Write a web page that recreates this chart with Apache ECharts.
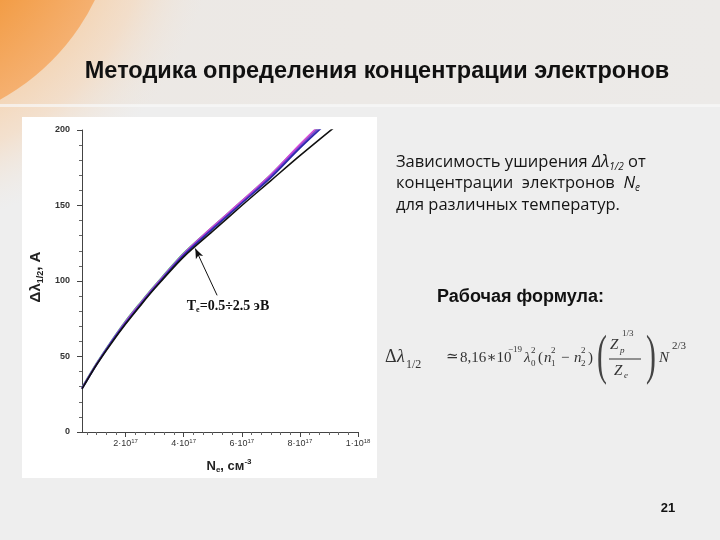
<!DOCTYPE html>
<html><head><meta charset="utf-8">
<script src="https://cdn.jsdelivr.net/npm/echarts@6/dist/echarts.min.js"></script>
<style>html,body{margin:0;padding:0;background:#eeeeee}#c{width:720px;height:540px}</style>
</head><body><div id="c"></div>
<script>
// Electron density, units of 1e17 cm^-3
const neValues = [0.5, 1, 1.5, 2, 2.5, 3, 4, 5, 6, 7, 8, 9.2];
// Line broadening Δλ1/2, Å for various temperatures (0.5 – 2.5 eV)
const teGreen   = [29.5, 45.5, 60, 73.5, 85.5, 97, 118.5, 136, 153, 170.5, 190, 212];
const teMagenta = [29, 45, 59.5, 73, 85, 96.5, 118, 136, 153, 170.5, 190.5, 213];
const tePurple  = [29, 45, 59.5, 72.5, 84.5, 96, 117.5, 135, 152, 169.5, 189, 211];
const teBlue    = [28.5, 44.5, 59, 72, 84, 95.5, 117, 134.5, 151.5, 168.5, 188, 209.5];
const teBlack   = [28.5, 44.5, 58.5, 71.5, 83.5, 95, 116, 133, 150, 166.5, 183, 202];
const xTickValues = [2, 4, 6, 8, 10];
const xTickMantissa = ['2', '4', '6', '8', '1'];
const xTickExp = ['17', '17', '17', '17', '18'];
const yTickValues = [0, 50, 100, 150, 200];
const arrowFrom = [5.15, 90.5];
const arrowTo = [4.4, 121.5];

const curves = [
  {name: 'T1', data: teGreen, color: '#3cb878'},
  {name: 'T2', data: teMagenta, color: '#d848d8'},
  {name: 'T3', data: tePurple, color: '#7a3ad8'},
  {name: 'T4', data: teBlue, color: '#2a2aa8'},
  {name: 'T5', data: teBlack, color: '#111111'}
];

const chart = echarts.init(document.getElementById('c'));
const serif = '"Liberation Serif","DejaVu Serif",serif';
const sans = '"Liberation Sans",Arial,sans-serif';
const body = '"Open Sans","Noto Sans",sans-serif';
function T(x, y, text, style, extra) {
  return Object.assign({type: 'text', x: x, y: y, z: 100,
    style: Object.assign({text: text, fill: '#222', verticalAlign: 'middle', align: 'left'}, style)}, extra || {});
}
const formulaFont = {fontFamily: serif, fontSize: 15, fill: '#333'};
const fi = Object.assign({}, formulaFont, {fontStyle: 'italic'});
const fs = Object.assign({}, formulaFont, {fontSize: 9});
const fsi = Object.assign({}, fs, {fontStyle: 'italic'});
const bodyRich = {
  t: {fontFamily: body, fontSize: 16.5, fill: '#151515', lineHeight: 20},
  i: {fontFamily: body, fontStyle: 'italic', fontSize: 16.5, fill: '#151515', lineHeight: 20},
  s: {fontFamily: body, fontStyle: 'italic', fontSize: 10, fill: '#151515', lineHeight: 10, verticalAlign: 'bottom'}
};

const graphics = [
  {type: 'rect', z: -10, shape: {x: 0, y: 0, width: 720, height: 540}, style: {fill: '#eeeeee'}},
  {type: 'rect', z: -9, shape: {x: 0, y: 0, width: 720, height: 105},
    style: {fill: new echarts.graphic.LinearGradient(0, 0, 1, 0, [{offset: 0, color: '#ece8e4'}, {offset: 1, color: '#eceae8'}])}},
  {type: 'circle', z: -8, shape: {cx: -110, cy: -100, r: 330},
    style: {fill: new echarts.graphic.RadialGradient(0.5, 0.5, 0.5, [
      {offset: 0.55, color: 'rgba(246,200,150,0.9)'}, {offset: 0.8, color: 'rgba(246,215,185,0.6)'}, {offset: 1, color: 'rgba(240,230,220,0)'}])}},
  {type: 'circle', z: -7, shape: {cx: -110, cy: -100, r: 228},
    style: {fill: new echarts.graphic.RadialGradient(0.5, 0.5, 0.5, [
      {offset: 0.6, color: '#f29a40'}, {offset: 1, color: '#f5b070'}])}},
  {type: 'rect', z: -6, shape: {x: 0, y: 104, width: 720, height: 3}, style: {fill: 'rgba(248,248,248,0.7)'}},
  {type: 'rect', z: -5, shape: {x: 22, y: 117, width: 355, height: 361}, style: {fill: '#ffffff'}},
  T(377, 72, 'Методика определения концентрации электронов', {fontFamily: sans, fontWeight: 'bold', fontSize: 23.5, fill: '#111', align: 'center'}),
  // y axis name
  T(36, 277, '{a|Δλ}{s|1/2}{a|, A}', {align: 'center', rich: {
    a: {fontFamily: sans, fontWeight: 'bold', fontSize: 15, fill: '#222', lineHeight: 18},
    s: {fontFamily: sans, fontWeight: 'bold', fontSize: 9, fill: '#222', lineHeight: 9, verticalAlign: 'bottom'}}}, {rotation: Math.PI / 2}),
  // x axis name
  T(229, 466, '{a|N}{s|e}{a|, см}{p|-3}', {align: 'center', rich: {
    a: {fontFamily: sans, fontWeight: 'bold', fontSize: 13, fill: '#222', lineHeight: 16},
    s: {fontFamily: sans, fontWeight: 'bold', fontSize: 8, fill: '#222', lineHeight: 8, verticalAlign: 'bottom'},
    p: {fontFamily: sans, fontWeight: 'bold', fontSize: 8, fill: '#222', lineHeight: 8, verticalAlign: 'top'}}}),
  // annotation
  T(228, 306, '{a|T}{s|e}{a|=0.5÷2.5 эВ}', {align: 'center', rich: {
    a: {fontFamily: serif, fontWeight: 'bold', fontSize: 14, fill: '#111', lineHeight: 16},
    s: {fontFamily: serif, fontWeight: 'bold', fontSize: 8, fill: '#111', lineHeight: 8, verticalAlign: 'bottom'}}}),
  // right description
  T(396, 162, '{t|Зависимость уширения }{i|Δλ}{s|1/2}{t| от}', {rich: bodyRich}),
  T(396, 183, '{t|концентрации  электронов  }{i|N}{s|e}', {rich: bodyRich}),
  T(396, 205, '{t|для различных температур.}', {rich: bodyRich}),
  T(437, 297, 'Рабочая формула:', {fontFamily: sans, fontWeight: 'bold', fontSize: 18, fill: '#111'}),
  // formula
  T(385, 357, 'Δ', Object.assign({}, formulaFont, {fontSize: 18})),
  T(397, 357, 'λ', Object.assign({}, fi, {fontSize: 18})),
  T(406, 365, '1/2', Object.assign({}, fs, {fontSize: 12})),
  T(446, 357, '≃', formulaFont),
  T(460, 358, '8,16∗10', formulaFont),
  T(508, 350, '−19', fs),
  T(524, 358, 'λ', fi),
  T(531, 364, '0', fs),
  T(531, 351, '2', fs),
  T(538, 358, '(', formulaFont),
  T(544, 358, 'n', fi),
  T(551, 364, '1', fs),
  T(551, 351, '2', fs),
  T(561, 358, '−', formulaFont),
  T(574, 358, 'n', fi),
  T(581, 364, '2', fs),
  T(581, 351, '2', fs),
  T(588, 358, ')', formulaFont),
  T(597, 359, '(', Object.assign({}, formulaFont, {fontSize: 54, fill: '#444'}), {scaleX: 0.55}),
  T(610, 345, 'Z', fi),
  T(620, 351, 'p', fsi),
  T(622, 334, '1/3', fs),
  {type: 'line', z: 100, shape: {x1: 609, y1: 359, x2: 641, y2: 359}, style: {stroke: '#333', lineWidth: 1}},
  T(614, 371, 'Z', fi),
  T(624, 376, 'e', fsi),
  T(646, 359, ')', Object.assign({}, formulaFont, {fontSize: 54, fill: '#444'}), {scaleX: 0.55}),
  T(659, 358, 'N', fi),
  T(672, 346, '2/3', Object.assign({}, fs, {fontSize: 11})),
  T(668, 508, '21', {fontFamily: sans, fontWeight: 'bold', fontSize: 13, fill: '#111', align: 'center'})
];

const series = curves.map(function (c, i) {
  const s = {
    name: c.name, type: 'line', smooth: 0.3, symbol: 'none', clip: true,
    data: neValues.map(function (x, k) { return [x, c.data[k]]; }),
    lineStyle: {color: c.color, width: 1.6}, itemStyle: {color: c.color}, z: 2 + i
  };
  if (i === curves.length - 1) {
    s.markLine = {silent: true, symbol: ['none', 'arrow'], symbolSize: [6, 10],
      lineStyle: {color: '#111', width: 1, type: 'solid'}, label: {show: false},
      data: [[{coord: arrowFrom}, {coord: arrowTo}]]};
  }
  return s;
});

chart.setOption({
  backgroundColor: '#eeeeee',
  animation: false,
  graphic: graphics,
  grid: {left: 82, top: 130, width: 276, height: 302, containLabel: false},
  xAxis: {
    type: 'value', min: 0.5, max: 10,
    axisLine: {show: true, onZero: false, lineStyle: {color: '#444', width: 1}},
    axisTick: {show: true, length: 5, customValues: xTickValues, lineStyle: {color: '#444'}},
    minorTick: {show: true, splitNumber: 6, length: 3, lineStyle: {color: '#666'}},
    splitLine: {show: false},
    axisLabel: {customValues: xTickValues, margin: 6,
      formatter: function (v) {
        const i = xTickValues.indexOf(v);
        if (i < 0) return '';
        return '{m|' + xTickMantissa[i] + '·10}{e|' + xTickExp[i] + '}';
      },
      rich: {
        m: {fontFamily: sans, fontSize: 9, color: '#333', lineHeight: 12},
        e: {fontFamily: sans, fontSize: 6, color: '#333', lineHeight: 6, verticalAlign: 'top'}
      }}
  },
  yAxis: {
    type: 'value', min: 0, max: 200, interval: 50,
    axisLine: {show: true, lineStyle: {color: '#444', width: 1}},
    axisTick: {show: true, length: 5, lineStyle: {color: '#444'}},
    minorTick: {show: true, splitNumber: 5, length: 3, lineStyle: {color: '#666'}},
    splitLine: {show: false},
    axisLabel: {margin: 12, fontFamily: sans, fontWeight: 'bold', fontSize: 9, color: '#333',
      formatter: function (v) { return yTickValues.indexOf(v) >= 0 ? String(v) : ''; }}
  },
  series: series
});
</script></body></html>
